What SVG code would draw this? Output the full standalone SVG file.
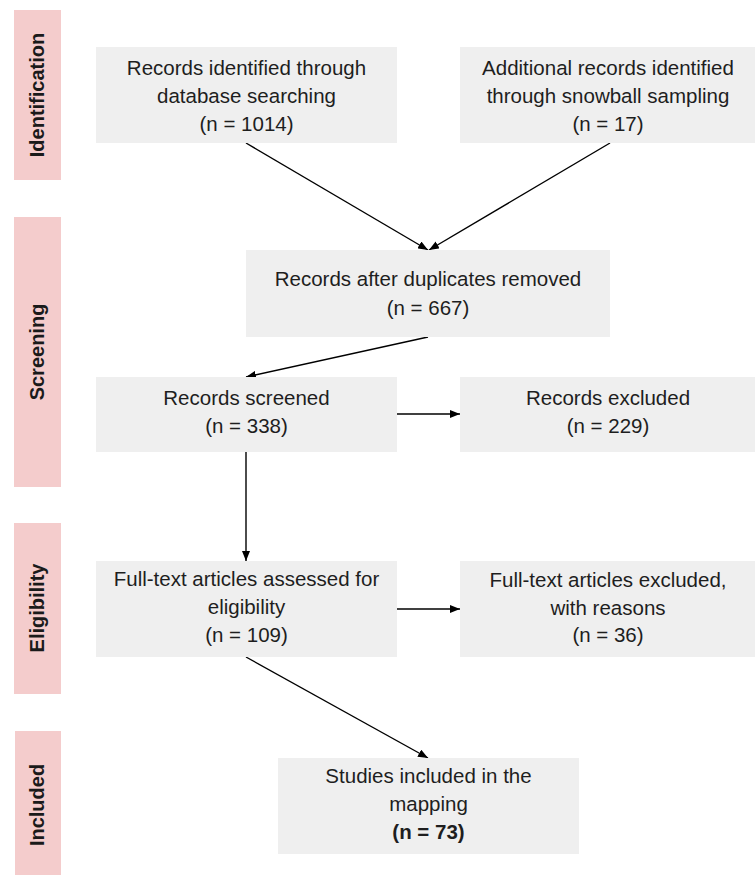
<svg xmlns="http://www.w3.org/2000/svg" width="755" height="875" viewBox="0 0 755 875">
  <style>
    .phase { fill: #f4cccc; }
    .phase-label { font-family: "Liberation Sans", Arial, sans-serif; font-size: 20px; font-weight: bold; fill: #1a1a1a; text-anchor: middle; }
    .box { fill: #efefef; }
    .txt { font-family: "Liberation Sans", Arial, sans-serif; font-size: 20.5px; fill: #1e1e1e; text-anchor: middle; }
    .bold { font-weight: bold; }
    .edge { stroke: #000; stroke-width: 1.4; fill: none; marker-end: url(#arrow); }
  </style>
  <defs>
    <marker id="arrow" viewBox="0 0 10 8" refX="10" refY="4" markerWidth="10" markerHeight="8" markerUnits="userSpaceOnUse" orient="auto">
      <path d="M0,0 L10,4 L0,8 Z" fill="#000"/>
    </marker>
  </defs>
  <rect width="755" height="875" fill="#ffffff"/>

  <!-- phase bars -->
  <g id="phase-identification">
    <rect class="phase" x="14" y="10" width="47" height="170"/>
    <text class="phase-label" transform="translate(44,95) rotate(-90)">Identification</text>
  </g>
  <g id="phase-screening">
    <rect class="phase" x="14" y="217" width="47" height="270"/>
    <text class="phase-label" transform="translate(44,352) rotate(-90)">Screening</text>
  </g>
  <g id="phase-eligibility">
    <rect class="phase" x="14" y="523" width="47" height="171"/>
    <text class="phase-label" transform="translate(44,608) rotate(-90)">Eligibility</text>
  </g>
  <g id="phase-included">
    <rect class="phase" x="15" y="731" width="46" height="144"/>
    <text class="phase-label" transform="translate(44,805) rotate(-90)">Included</text>
  </g>

  <!-- connectors -->
  <g id="connectors">
    <line class="edge" x1="246" y1="143" x2="428" y2="250"/>
    <line class="edge" x1="610" y1="143" x2="429" y2="250"/>
    <line class="edge" x1="428" y1="337" x2="246" y2="377"/>
    <line class="edge" x1="397" y1="414" x2="460" y2="414"/>
    <line class="edge" x1="246" y1="452" x2="246" y2="561"/>
    <line class="edge" x1="397" y1="609" x2="460" y2="609"/>
    <line class="edge" x1="246" y1="657" x2="428" y2="758"/>
  </g>

  <!-- nodes -->
  <g id="records-database">
    <rect class="box" x="96" y="47" width="301" height="96"/>
    <text class="txt" x="246.5" y="75">Records identified through</text>
    <text class="txt" x="246.5" y="103">database searching</text>
    <text class="txt" x="246.5" y="131">(n = 1014)</text>
  </g>
  <g id="records-snowball">
    <rect class="box" x="460" y="47" width="295" height="96"/>
    <text class="txt" x="608" y="75">Additional records identified</text>
    <text class="txt" x="608" y="103">through snowball sampling</text>
    <text class="txt" x="608" y="131">(n = 17)</text>
  </g>
  <g id="records-deduplicated">
    <rect class="box" x="246" y="250" width="364" height="87"/>
    <text class="txt" x="428" y="286">Records after duplicates removed</text>
    <text class="txt" x="428" y="315">(n = 667)</text>
  </g>
  <g id="records-screened">
    <rect class="box" x="96" y="377" width="301" height="75"/>
    <text class="txt" x="246.5" y="405">Records screened</text>
    <text class="txt" x="246.5" y="433">(n = 338)</text>
  </g>
  <g id="records-excluded">
    <rect class="box" x="460" y="377" width="295" height="75"/>
    <text class="txt" x="608" y="405">Records excluded</text>
    <text class="txt" x="608" y="433">(n = 229)</text>
  </g>
  <g id="fulltext-assessed">
    <rect class="box" x="96" y="561" width="301" height="96"/>
    <text class="txt" x="246.5" y="586">Full-text articles assessed for</text>
    <text class="txt" x="246.5" y="614">eligibility</text>
    <text class="txt" x="246.5" y="642">(n = 109)</text>
  </g>
  <g id="fulltext-excluded">
    <rect class="box" x="460" y="561" width="295" height="96"/>
    <text class="txt" x="608" y="587">Full-text articles excluded,</text>
    <text class="txt" x="608" y="615">with reasons</text>
    <text class="txt" x="608" y="642">(n = 36)</text>
  </g>
  <g id="studies-included">
    <rect class="box" x="278" y="758" width="301" height="96"/>
    <text class="txt" x="428.5" y="783">Studies included in the</text>
    <text class="txt" x="428.5" y="811">mapping</text>
    <text class="txt bold" x="428.5" y="839">(n = 73)</text>
  </g>
</svg>
